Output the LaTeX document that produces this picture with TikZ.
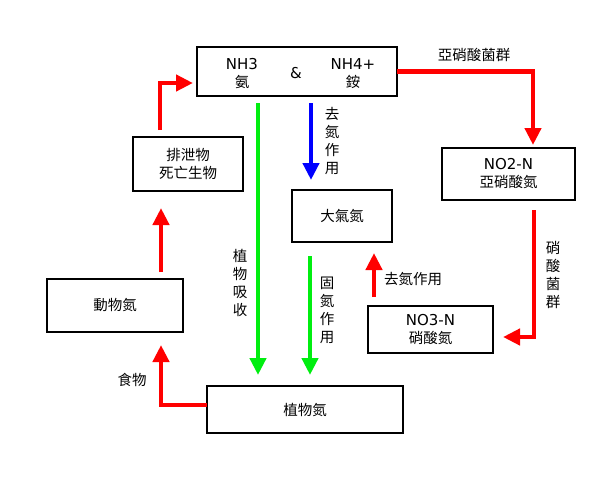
\documentclass[tikz,border=0pt]{standalone}
\usepackage{fontspec}
\setmainfont{Noto Sans CJK TC}
\newfontfamily\lat{DejaVu Sans}
\usetikzlibrary{arrows.meta}
\definecolor{myred}{HTML}{FF0000}
\definecolor{mygreen}{HTML}{00EE10}
\definecolor{myblue}{HTML}{0000FF}
\newcommand\latx[1]{{\lat\fontsize{15}{18}\selectfont #1}}
\tikzset{
  box/.style={draw, line width=2.3pt, inner sep=0pt, outer sep=0pt, align=center, font=\fontsize{14.5}{18}\selectfont},
  lbl/.style={inner sep=0pt, align=center, font=\fontsize{14.5}{18}\selectfont},
  redarr/.style={draw=myred, line width=4.8pt, -{Triangle[length=17pt,width=16pt]}},
  grnarr/.style={draw=mygreen, line width=4.8pt, -{Triangle[length=17pt,width=16pt]}},
  bluarr/.style={draw=myblue, line width=4.8pt, -{Triangle[length=17pt,width=16pt]}},
}
\begin{document}
\begin{tikzpicture}[x=1pt,y=-1pt]
\useasboundingbox[fill=white] (0,0) rectangle (600,480);
% boxes
\node[box, minimum width=200pt, minimum height=49pt] (top) at (297,71.5) {};
\node[lbl] (nh3) at (242,74) {\latx{NH3}\\氨};
\node[lbl] (amp) at (296,73) {\latx{\&}};
\node[lbl] (nh4) at (353,74) {\latx{NH4+}\\銨};
\node[box, minimum width=133pt, minimum height=52pt] (no2) at (508.5,174) {\latx{NO2-N}\\亞硝酸氮};
\node[box, minimum width=125pt, minimum height=47pt] (no3) at (430.5,329.5) {\latx{NO3-N}\\硝酸氮};
\node[box, minimum width=100pt, minimum height=52pt] (atm) at (342,216) {大氣氮};
\node[box, minimum width=196pt, minimum height=47pt] (plant) at (305,409.5) {植物氮};
\node[box, minimum width=136pt, minimum height=53pt] (animal) at (115,305.5) {動物氮};
\node[box, minimum width=110pt, minimum height=54pt] (excr) at (188,164) {排泄物\\死亡生物};
% labels
\node[lbl] (l1) at (474,55) {亞硝酸菌群};
\node[lbl] (l2) at (553,274.5) {硝\\酸\\菌\\群};
\node[lbl] (l3) at (332,141) {去\\氮\\作\\用};
\node[lbl] (l4) at (240,282.5) {植\\物\\吸\\收};
\node[lbl] (l5) at (327,310) {固\\氮\\作\\用};
\node[lbl] (l6) at (413,279) {去氮作用};
\node[lbl] (l7) at (132,380) {食物};
% arrows
\draw[redarr] (top.east) -| ([xshift=24.5pt,yshift=3pt]no2.north);
\draw[redarr] ([xshift=25.5pt,yshift=-10pt]no2.south) |- ([xshift=10pt,yshift=-7.5pt]no3.east);
\draw[redarr] ([xshift=6pt,yshift=9pt]no3.north west) -- ([xshift=-18pt,yshift=-11pt]atm.south east);
\draw[bluarr] ([xshift=14pt,yshift=-7pt]top.south) -- ([xshift=-31pt,yshift=10pt]atm.north);
\draw[grnarr] ([xshift=-39pt,yshift=-7pt]top.south) -- ([xshift=-47pt,yshift=11pt]plant.north);
\draw[grnarr] ([xshift=-32pt,yshift=-14pt]atm.south) -- ([xshift=5pt,yshift=11pt]plant.north);
\draw[redarr] ([yshift=4.5pt]plant.west) -| ([xshift=46pt,yshift=-13pt]animal.south);
\draw[redarr] ([xshift=46pt,yshift=7pt]animal.north) -- ([xshift=-27pt,yshift=-17pt]excr.south);
\draw[redarr] ([xshift=-28pt,yshift=7pt]excr.north) |- ([xshift=-4pt,yshift=-11.5pt]top.west);
\end{tikzpicture}
\end{document}
